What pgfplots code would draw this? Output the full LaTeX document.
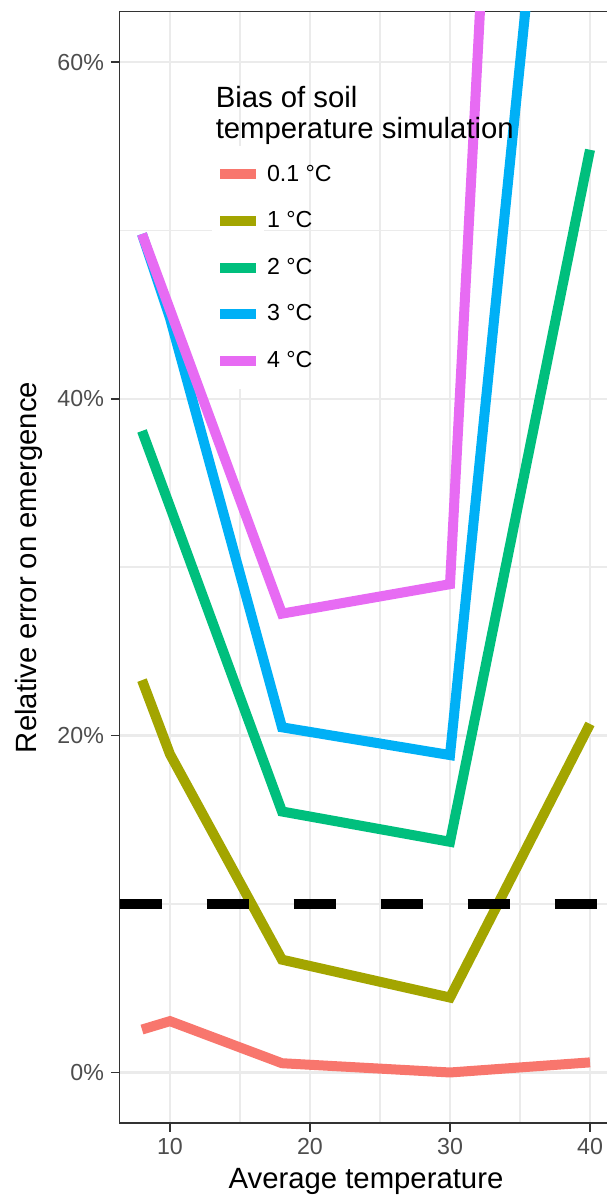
\documentclass[border=0pt]{standalone}
\usepackage{pgfplots}
\pgfplotsset{compat=1.18}
\usepackage{pgfplotstable}
\usepackage{fontspec}
\setmainfont{Liberation Sans}
\definecolor{cRed}{HTML}{F8766D}
\definecolor{cOlive}{HTML}{A3A500}
\definecolor{cGreen}{HTML}{00BF7D}
\definecolor{cBlue}{HTML}{00B0F6}
\definecolor{cMag}{HTML}{E76BF3}
\definecolor{gridc}{HTML}{EBEBEB}
\definecolor{borderc}{HTML}{333333}
\definecolor{tickc}{HTML}{4D4D4D}
\pgfplotstableread{
x r o g b m
8 2.55 23.3 38.1 49.8 49.8
10 3.05 18.9 33.6 44.8 45.3
18 0.55 6.7 15.5 20.5 27.25
30 0.0 4.45 13.7 18.85 29.0
40 0.6 20.7 54.8 101.0 188.0
}\datatab
\begin{document}
\begin{tikzpicture}
\begin{axis}[
  scale only axis, width=246.4pt, height=555.65pt,
  xmin=6.4, xmax=41.6, ymin=-3, ymax=63,
  xtick={10,20,30,40}, ytick={0,20,40,60},
  minor xtick={15,25,35}, minor ytick={10,30,50},
  grid=both,
  major grid style={color=gridc, line width=1.3pt},
  minor grid style={color=gridc, line width=0.9pt},
  minor tick length=0pt,
  major tick length=4.3pt,
  tick align=outside, tick pos=left,
  major tick style={color=borderc, line width=0.7pt},
  axis line style={color=borderc, line width=0.7pt},
  /pgf/number format/assume math mode=true,
  ticklabel style={font=\fontsize{11.6}{14}\selectfont, text=tickc},
  yticklabel={\pgfmathprintnumber{\tick}\%},
  xlabel={Average temperature}, ylabel={Relative error on emergence},
  label style={font=\fontsize{14.65}{17}\selectfont},
  xlabel style={at={(axis description cs:0.5,-0.05876)}, anchor=base},
  ylabel style={at={(axis description cs:-0.1696,0.5)}, anchor=base},
  legend style={at={(rel axis cs:0.1875,0.879)}, anchor=north west, draw=none, fill=none,
    inner sep=0pt, outer sep=0pt, row sep=-4.92pt,
    nodes={inner sep=0pt, outer sep=0pt, font=\fontsize{11.6}{14}\selectfont, text=black},
    /tikz/every odd column/.append style={column sep=1.5pt}},
  legend cell align=left,
  legend image code/.code={\fill[white] (0pt,-11.625pt) rectangle (21pt,11.625pt);
    \draw[#1] (1.5pt,0pt) -- (19.5pt,0pt);},
  every axis plot/.append style={line width=5pt, line join=miter, line cap=butt},
]
\addplot[cRed] table[x=x,y=r] {\datatab};
\addlegendentry{0.1 °C}
\addplot[cOlive] table[x=x,y=o] {\datatab};
\addlegendentry{1 °C}
\addplot[cGreen] table[x=x,y=g] {\datatab};
\addlegendentry{2 °C}
\addplot[cBlue] table[x=x,y=b] {\datatab};
\addlegendentry{3 °C}
\addplot[cMag] table[x=x,y=m] {\datatab};
\addlegendentry{4 °C}
\addplot[black, dash pattern=on 21pt off 22.5pt, forget plot] coordinates {(6.4,10) (41.6,10)};
\node[anchor=base west, font=\fontsize{14.65}{17}\selectfont, inner sep=0pt] at (rel axis cs:0.1944,0.9136) {Bias of soil};
\node[anchor=base west, font=\fontsize{14.65}{17}\selectfont, inner sep=0pt] at (rel axis cs:0.1944,0.8861) {temperature simulation};
\end{axis}
\pgfresetboundingbox
\path[use as bounding box] ([shift={(-59.8pt,-36.5pt)}]current axis.south west) rectangle ([shift={(243.2pt,5.85pt)}]current axis.north west);
\end{tikzpicture}
\end{document}
